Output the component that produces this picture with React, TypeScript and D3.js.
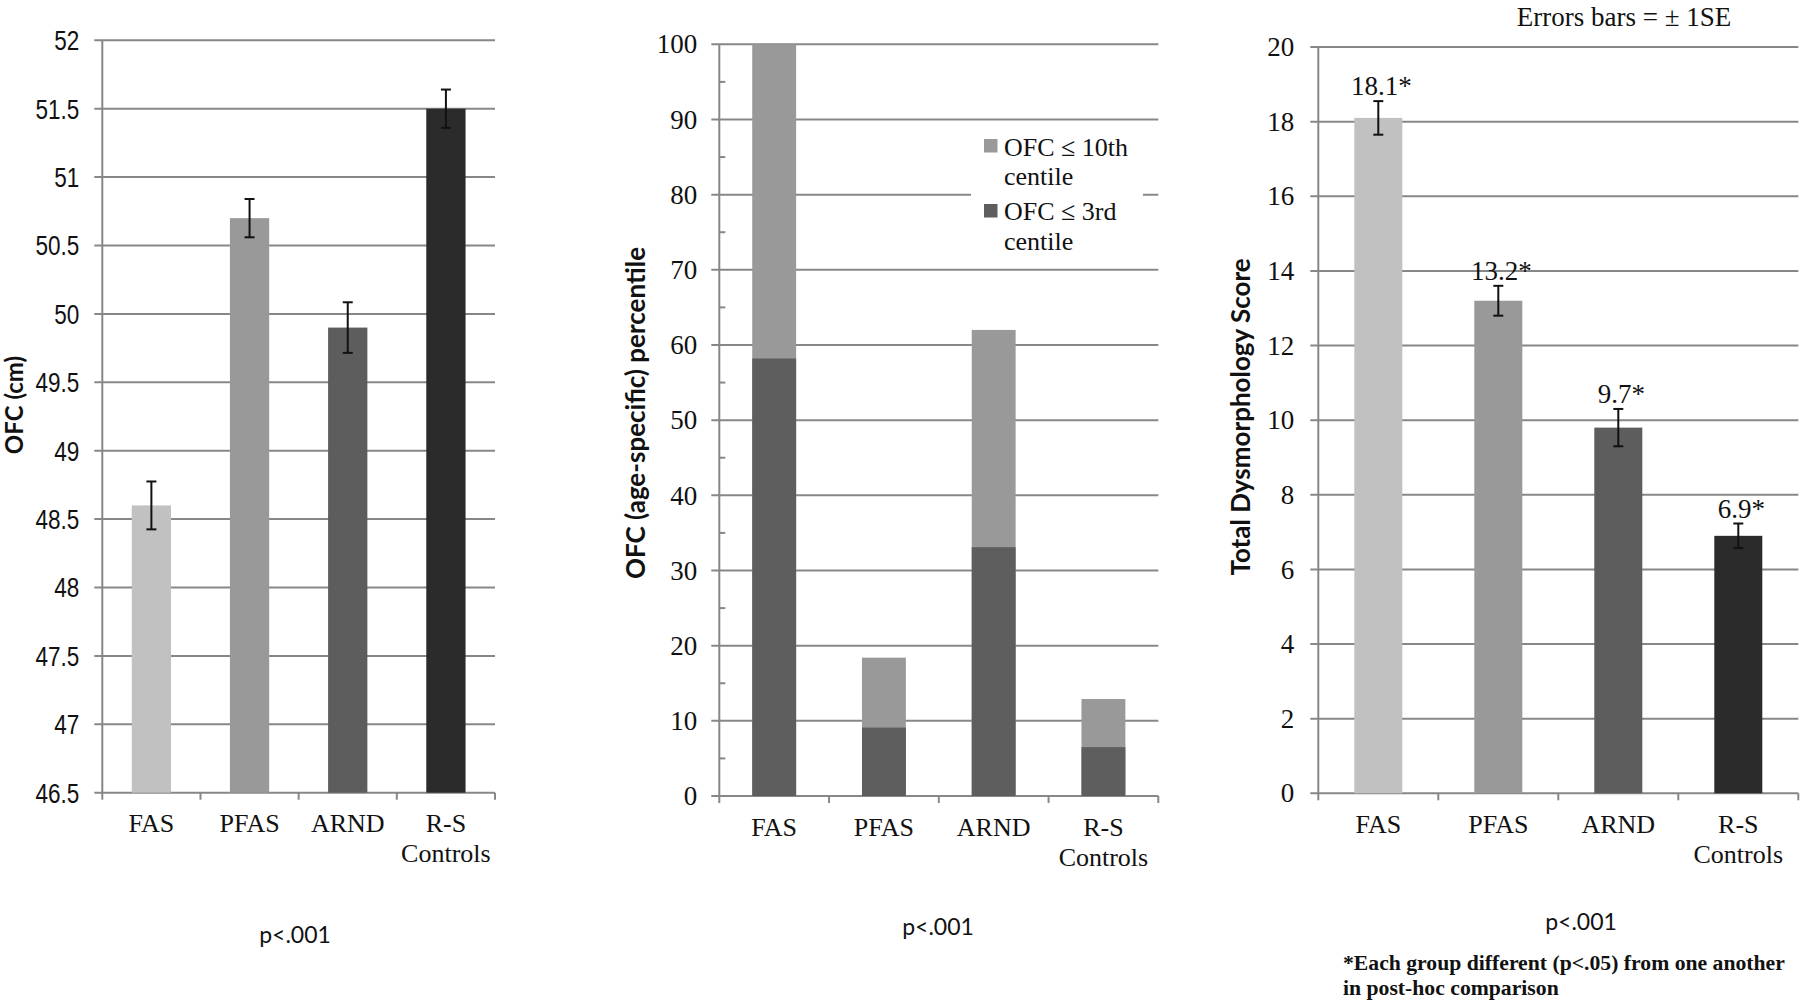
import * as d3 from "d3";

const categories = ["FAS", "PFAS", "ARND", "R-S Controls"];
const groupColors = ["#c1c1c1", "#999999", "#5d5d5d", "#2b2b2b"];

// panel 1: OFC in cm, mean ± 1SE
const ofcMean = [48.6, 50.7, 49.9, 51.5];
const ofcSE = [0.175, 0.14, 0.185, 0.14];
const ofcTicks = [46.5, 47, 47.5, 48, 48.5, 49, 49.5, 50, 50.5, 51, 51.5, 52];

// panel 2: % of group below centile
const pctTenth = [100, 18.4, 62, 12.9];
const pctThird = [58.2, 9.1, 33.1, 6.5];
const pctTicks = [0, 10, 20, 30, 40, 50, 60, 70, 80, 90, 100];
const pctMinor = [5, 15, 25, 35, 45, 55, 65, 75, 85, 95];
const pctLegend = [
  ["OFC ≤ 10th", "centile"],
  ["OFC ≤ 3rd", "centile"],
];
const pctColors = ["#999999", "#5e5e5e"];

// panel 3: dysmorphology score, mean ± 1SE
const dysMean = [18.1, 13.2, 9.8, 6.9];
const dysSE = [0.45, 0.4, 0.5, 0.33];
const dysLabels = ["18.1*", "13.2*", "9.7*", "6.9*"];
const dysTicks = [0, 2, 4, 6, 8, 10, 12, 14, 16, 18, 20];

const GRID = "#878787";
const SERIF = "'Liberation Serif', 'Times New Roman', serif";
const SANS = "'Liberation Sans', Arial, sans-serif";
const TITLE = "Lato, 'Open Sans', sans-serif";

type FrameProps = {
  x: d3.ScaleBand<string>;
  y: d3.ScaleLinear<number, number>;
  ticks: number[];
  minor?: number[];
  labelGap: number;
  narrowTicks?: boolean;
  catBase: number;
};

function Frame({ x, y, ticks, minor, labelGap, narrowTicks, catBase }: FrameProps) {
  const [x0, x1] = x.range();
  const y0 = y.range()[0];
  return (
    <g>
      {ticks.map((t) => (
        <line key={"g" + t} x1={x0 - 8} x2={x1} y1={y(t)} y2={y(t)} stroke={GRID} strokeWidth={2} />
      ))}
      {(minor ?? []).map((t) => (
        <line key={"m" + t} x1={x0} x2={x0 + 6} y1={y(t)} y2={y(t)} stroke={GRID} strokeWidth={2} />
      ))}
      <line x1={x0} x2={x0} y1={y0} y2={y.range()[1]} stroke={GRID} strokeWidth={2} />
      {[...categories.map((c) => x(c)! - x.step() * x.paddingOuter()), x1].map((v, i) => (
        <line key={"c" + i} x1={v} x2={v} y1={y0} y2={y0 + 7} stroke={GRID} strokeWidth={2} />
      ))}
      {ticks.map((t) =>
        narrowTicks ? (
          <text
            key={"l" + t}
            transform={`translate(${x0 - labelGap},${y(t)}) scale(0.82,1)`}
            textAnchor="end"
            dy="0.36em"
            fontFamily={SANS}
            fontSize={27.5}
            fill="#111"
          >
            {t}
          </text>
        ) : (
          <text
            key={"l" + t}
            x={x0 - labelGap}
            y={y(t)}
            textAnchor="end"
            dy="0.34em"
            fontFamily={SERIF}
            fontSize={27}
            fill="#111"
          >
            {t}
          </text>
        )
      )}
      {categories.map((c) => (
        <text
          key={"t" + c}
          x={x(c)! + x.bandwidth() / 2}
          y={catBase}
          textAnchor="middle"
          fontFamily={SERIF}
          fontSize={26}
          fill="#111"
        >
          {c.split(" ").map((line, i) => (
            <tspan key={i} x={x(c)! + x.bandwidth() / 2} dy={i === 0 ? 0 : 30}>
              {line}
            </tspan>
          ))}
        </text>
      ))}
    </g>
  );
}

function ErrorBar({ cx, top, bottom }: { cx: number; top: number; bottom: number }) {
  return (
    <g stroke="#111" strokeWidth={2}>
      <line x1={cx} x2={cx} y1={top} y2={bottom} />
      <line x1={cx - 5} x2={cx + 5} y1={top} y2={top} />
      <line x1={cx - 5} x2={cx + 5} y1={bottom} y2={bottom} />
    </g>
  );
}

function band(range: [number, number]) {
  return d3.scaleBand<string>().domain(categories).range(range).paddingInner(0.6).paddingOuter(0.3);
}

export default function App() {
  const x1 = band([102.3, 495]);
  const y1 = d3.scaleLinear().domain([46.5, 52]).range([792.7, 40.3]);

  const x2 = band([719.3, 1158.3]);
  const y2 = d3.scaleLinear().domain([0, 100]).range([796, 44.3]);

  const x3 = band([1318.3, 1798.3]);
  const y3 = d3.scaleLinear().domain([0, 20]).range([793.3, 47]);

  return (
    <svg
      width={1800}
      height={1006}
      style={{ position: "absolute", left: 0, top: 0, background: "#fff" }}
    >
      <rect width={1800} height={1006} fill="#fff" />

      {/* panel 1 */}
      <Frame x={x1} y={y1} ticks={ofcTicks} labelGap={23} narrowTicks catBase={832} />
      {categories.map((c, i) => (
        <rect
          key={c}
          x={x1(c)}
          width={x1.bandwidth()}
          y={y1(ofcMean[i])}
          height={y1(46.5) - y1(ofcMean[i])}
          fill={groupColors[i]}
        />
      ))}
      {categories.map((c, i) => (
        <ErrorBar
          key={c}
          cx={x1(c)! + x1.bandwidth() / 2}
          top={y1(ofcMean[i] + ofcSE[i])}
          bottom={y1(ofcMean[i] - ofcSE[i])}
        />
      ))}
      <text transform="translate(23,405) rotate(-90)" textAnchor="middle" fontFamily={TITLE} fontWeight={700} fontSize={24} fill="#111">
        OFC (cm)
      </text>
      <text x={295} y={943} textAnchor="middle" fontFamily={TITLE} fontSize={23} fill="#111">
        p&lt;.001
      </text>

      {/* panel 2 */}
      <Frame x={x2} y={y2} ticks={pctTicks} minor={pctMinor} labelGap={22} catBase={836} />
      {categories.map((c, i) => (
        <g key={c}>
          <rect x={x2(c)} width={x2.bandwidth()} y={y2(pctTenth[i])} height={y2(0) - y2(pctTenth[i])} fill={pctColors[0]} />
          <rect x={x2(c)} width={x2.bandwidth()} y={y2(pctThird[i])} height={y2(0) - y2(pctThird[i])} fill={pctColors[1]} />
        </g>
      ))}
      <rect x={971} y={128} width={172} height={134} fill="#fff" />
      {pctLegend.map((lines, i) => (
        <g key={i}>
          <rect x={984} y={139 + i * 65} width={13.5} height={13.5} fill={pctColors[i]} />
          <text x={1004} y={155.7 + i * 64.5} fontFamily={SERIF} fontSize={26} fill="#111">
            {lines.map((l, j) => (
              <tspan key={j} x={1004} dy={j === 0 ? 0 : 29.5}>
                {l}
              </tspan>
            ))}
          </text>
        </g>
      ))}
      <text transform="translate(645,413) rotate(-90)" textAnchor="middle" fontFamily={TITLE} fontWeight={700} fontSize={26} fill="#111">
        OFC (age-specific) percentile
      </text>
      <text x={938} y={935} textAnchor="middle" fontFamily={TITLE} fontSize={23} fill="#111">
        p&lt;.001
      </text>

      {/* panel 3 */}
      <Frame x={x3} y={y3} ticks={dysTicks} labelGap={24} catBase={833} />
      {categories.map((c, i) => (
        <rect
          key={c}
          x={x3(c)}
          width={x3.bandwidth()}
          y={y3(dysMean[i])}
          height={y3(0) - y3(dysMean[i])}
          fill={groupColors[i]}
        />
      ))}
      {categories.map((c, i) => (
        <g key={c}>
          <ErrorBar
            cx={x3(c)! + x3.bandwidth() / 2}
            top={y3(dysMean[i] + dysSE[i])}
            bottom={y3(dysMean[i] - dysSE[i])}
          />
          <text
            x={x3(c)! + x3.bandwidth() / 2 + 3}
            y={y3(dysMean[i] + dysSE[i]) - 6}
            textAnchor="middle"
            fontFamily={SERIF}
            fontSize={27}
            fill="#111"
          >
            {dysLabels[i]}
          </text>
        </g>
      ))}
      <text transform="translate(1250,417) rotate(-90)" textAnchor="middle" fontFamily={TITLE} fontWeight={700} fontSize={26} fill="#111">
        Total Dysmorphology Score
      </text>
      <text x={1624} y={26} textAnchor="middle" fontFamily={SERIF} fontSize={27} fill="#111">
        Errors bars = ± 1SE
      </text>
      <text x={1581} y={930} textAnchor="middle" fontFamily={TITLE} fontSize={23} fill="#111">
        p&lt;.001
      </text>
      <text x={1343} y={970} fontFamily={SERIF} fontWeight={700} fontSize={21.7} fill="#111">
        <tspan x={1343}>*Each group different (p&lt;.05) from one another</tspan>
        <tspan x={1343} dy={25}>in post-hoc comparison</tspan>
      </text>
    </svg>
  );
}
